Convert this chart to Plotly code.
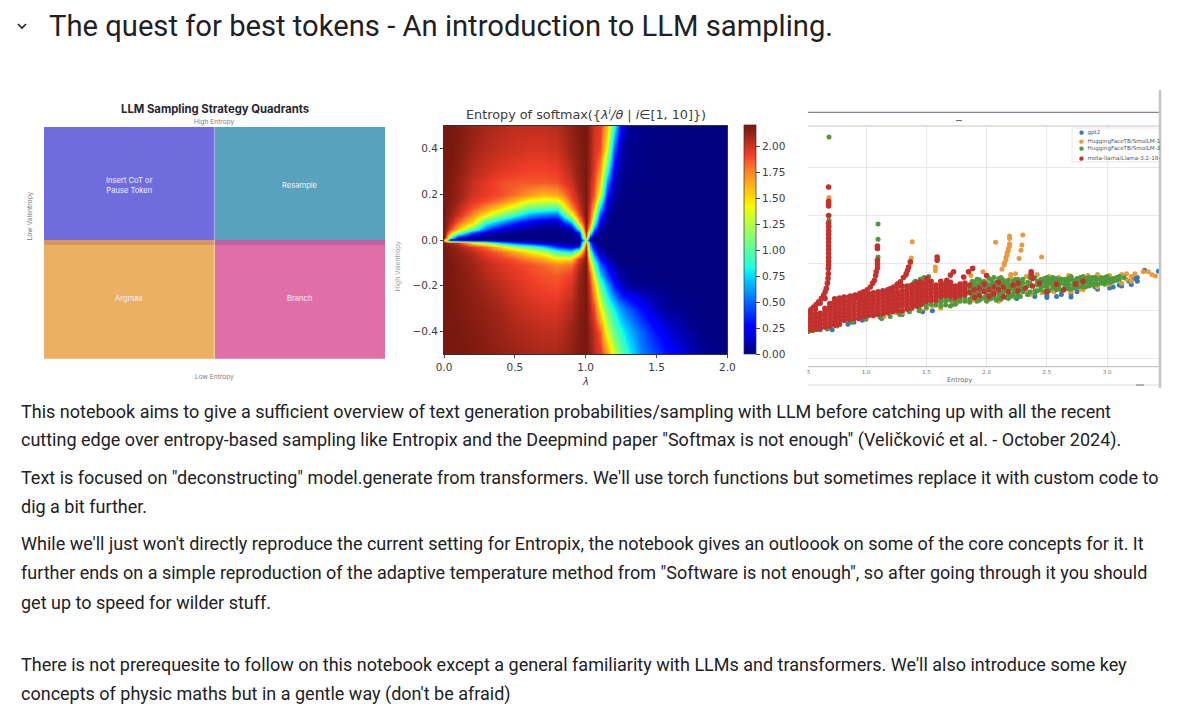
import plotly.graph_objects as go

W = 1200
H = 718

PAGE_TITLE = "The quest for best tokens - An introduction to LLM sampling."
BODY_LINES = [
	"This notebook aims to give a sufficient overview of text generation probabilities/sampling with LLM before catching up with all the recent",
	'cutting edge over entropy-based sampling like Entropix and the Deepmind paper "Softmax is not enough" (Veličković et al. - October 2024).',
	'Text is focused on "deconstructing" model.generate from transformers. We\'ll use torch functions but sometimes replace it with custom code to',
	"dig a bit further.",
	"While we'll just won't directly reproduce the current setting for Entropix, the notebook gives an outloook on some of the core concepts for it. It",
	'further ends on a simple reproduction of the adaptive temperature method from "Software is not enough", so after going through it you should',
	"get up to speed for wilder stuff.",
	"There is not prerequesite to follow on this notebook except a general familiarity with LLMs and transformers. We'll also introduce some key",
	"concepts of physic maths but in a gentle way (don't be afraid)",
]
BODY_Y = [411.5, 440.5, 477.5, 506.5, 543.5, 572.5, 602.5, 664.5, 693.5]

# quadrants (column 0 = low entropy, column 1 = high entropy)
QUAD_X = [0, 1]
QUAD_LOWER = [0.49, 0.49]
QUAD_STRIP = [0.022, 0.022]
QUAD_UPPER = [0.488, 0.488]
QUAD_LOWER_COLORS = ["#ecb064", "#e06fa8"]
QUAD_STRIP_COLORS = ["#d9975c", "#c45f9f"]
QUAD_UPPER_COLORS = ["#6f6cdd", "#58a2bd"]

LAMBDAS = [0, .05, .1, .2, .3, .4, .5, .6, .7, .8, .9, .95, 1.0, 1.03, 1.06, 1.1, 1.15, 1.2, 1.25, 1.3, 1.4, 1.5, 1.6, 1.8, 2.0]
VALENTROPY = [.5, .4, .3, .25, .2, .17, .14, .11, .08, .05, .03, .01, 0, -.01, -.03, -.05, -.08, -.11, -.15, -.2, -.3, -.4, -.5]
ENTROPY_ROWS = [
	[2.2, 2.2, 2.18, 2.12, 2.08, 2.05, 2.03, 2.03, 2.03, 2.05, 2.12, 2.18, 2.2, 2.1, 2.0, 1.95, 1.6, .9, .25, .05, .02, .01, 0, 0, 0],
	[2.2, 2.2, 2.17, 2.1, 2.05, 2.02, 2.0, 1.98, 1.98, 2.0, 2.1, 2.16, 2.2, 2.1, 1.98, 1.9, 1.4, .5, .08, .02, .01, 0, 0, 0, 0],
	[2.2, 2.18, 2.15, 2.05, 2.0, 1.95, 1.92, 1.9, 1.9, 1.92, 2.05, 2.14, 2.2, 2.08, 1.95, 1.7, .9, .2, .05, .02, .01, 0, 0, 0, 0],
	[2.2, 2.17, 2.12, 2.02, 1.95, 1.88, 1.85, 1.85, 1.85, 1.87, 2.0, 2.12, 2.2, 2.05, 1.9, 1.55, .6, .1, .03, .01, 0, 0, 0, 0, 0],
	[2.2, 2.17, 2.12, 2.0, 1.93, 1.88, 1.8, 1.7, 1.6, 1.65, 1.92, 2.08, 2.2, 2.02, 1.85, 1.35, .35, .06, .02, 0, 0, 0, 0, 0, 0],
	[2.2, 2.15, 2.1, 1.95, 1.88, 1.78, 1.6, 1.4, 1.35, 1.35, 1.85, 2.05, 2.2, 2.0, 1.75, 1.05, .2, .04, .01, 0, 0, 0, 0, 0, 0],
	[2.2, 2.13, 2.05, 1.88, 1.72, 1.5, 1.3, 1.05, 1.0, .95, 1.7, 2.0, 2.2, 1.95, 1.6, .75, .12, .02, 0, 0, 0, 0, 0, 0, 0],
	[2.2, 2.1, 2.0, 1.75, 1.45, 1.15, .9, .65, .55, .5, 1.35, 1.9, 2.2, 1.9, 1.35, .45, .06, .01, 0, 0, 0, 0, 0, 0, 0],
	[2.2, 2.05, 1.85, 1.55, .95, .65, .4, .25, .15, .12, .7, 1.6, 2.2, 1.8, 1.05, .22, .03, 0, 0, 0, 0, 0, 0, 0, 0],
	[2.2, 1.9, 1.6, 1.1, .5, .2, .1, .05, .02, .02, .1, .95, 2.15, 1.45, .6, .08, .01, 0, 0, 0, 0, 0, 0, 0, 0],
	[2.2, 1.6, 1.1, .45, .12, .04, .02, .01, .01, .01, .02, .3, 2.05, 1.0, .25, .03, 0, 0, 0, 0, 0, 0, 0, 0, 0],
	[2.2, .9, .25, .03, .01, 0, 0, 0, 0, 0, .01, .03, 1.8, .25, .03, 0, 0, 0, 0, 0, 0, 0, 0, 0, 0],
	[1.5, .05, 0, 0, 0, 0, 0, 0, 0, 0, 0, 0, 1.0, 0, 0, 0, 0, 0, 0, 0, 0, 0, 0, 0, 0],
	[2.2, 2.1, 2.0, 1.5, 1.2, .7, .45, .3, .15, .05, .02, .05, 1.8, .5, .1, .02, 0, 0, 0, 0, 0, 0, 0, 0, 0],
	[2.2, 2.15, 2.1, 1.95, 1.8, 1.5, 1.2, 1.0, .75, .4, .2, .4, 2.05, .7, .2, .04, 0, 0, 0, 0, 0, 0, 0, 0, 0],
	[2.2, 2.17, 2.13, 2.05, 1.92, 1.8, 1.65, 1.45, 1.3, .95, .8, 1.3, 2.12, 1.0, .45, .12, .02, 0, 0, 0, 0, 0, 0, 0, 0],
	[2.2, 2.18, 2.15, 2.08, 2.0, 1.92, 1.85, 1.75, 1.65, 1.45, 1.5, 1.95, 2.18, 1.35, .8, .3, .1, .02, 0, 0, 0, 0, 0, 0, 0],
	[2.2, 2.19, 2.16, 2.1, 2.03, 1.97, 1.92, 1.88, 1.82, 1.75, 1.8, 2.05, 2.2, 1.6, 1.05, .5, .25, .08, .02, 0, 0, 0, 0, 0, 0],
	[2.2, 2.19, 2.17, 2.12, 2.05, 2.0, 1.95, 1.9, 1.87, 1.85, 1.92, 2.1, 2.2, 1.85, 1.35, .75, .4, .18, .06, .02, .01, 0, 0, 0, 0],
	[2.2, 2.19, 2.17, 2.13, 2.08, 2.03, 1.98, 1.93, 1.9, 1.88, 1.97, 2.12, 2.2, 1.95, 1.6, 1.05, .65, .35, .15, .06, .02, .01, 0, 0, 0],
	[2.2, 2.2, 2.18, 2.15, 2.12, 2.08, 2.03, 2.0, 1.97, 1.97, 2.05, 2.15, 2.2, 2.05, 1.9, 1.45, 1.05, .8, .6, .48, .28, .12, .03, 0, 0],
	[2.2, 2.2, 2.19, 2.17, 2.14, 2.1, 2.07, 2.05, 2.03, 2.03, 2.1, 2.17, 2.2, 2.1, 2.02, 1.85, 1.35, 1.05, .85, .7, .48, .3, .15, .01, 0],
	[2.2, 2.2, 2.2, 2.18, 2.16, 2.13, 2.1, 2.08, 2.07, 2.07, 2.13, 2.18, 2.2, 2.13, 2.05, 1.97, 1.7, 1.35, 1.05, .85, .55, .42, .27, .05, 0],
]
CBAR_TICKS = [0, .25, .5, .75, 1.0, 1.25, 1.5, 1.75, 2.0]
# jet, with the washed out reds of the screenshot
JET = [
	[0, "rgb(0,0,128)"], [.11, "rgb(0,0,255)"], [.125, "rgb(0,0,255)"], [.34, "rgb(0,219,255)"],
	[.35, "rgb(0,230,247)"], [.375, "rgb(26,255,226)"], [.64, "rgb(237,255,8)"], [.65, "rgb(247,245,0)"],
	[.66, "rgb(255,236,0)"], [.8, "rgb(250,130,40)"], [.87, "rgb(240,62,40)"], [.91, "rgb(205,50,32)"],
	[.95, "rgb(160,38,24)"], [1, "rgb(120,24,14)"],
]

# scatter, entropy with its valentropy readings at that entropy
RED_COLS = [
	(.54, [.6, .68, .76, .84, .92, .98]), (.58, [.62, .7, .78, .86, .94, 1.04]), (.62, [.64, .72, .8, .88, .95, 1.16]),
	(.66, [.66, .74, .82, .9, .98, 1.05, 1.26]), (.70, [.68, .76, .84, .92, 1.0, 1.08, 1.15]), (.74, [.7, .78, .86, .94, 1.02, 1.1, 1.18, 1.25]),
	(.78, [.72, .8, .88, .96, 1.04, 1.12, 1.2, 1.27]), (.82, [.8, .88, .96, 1.04, 1.12, 1.2, 1.29]), (.86, [.82, .9, .98, 1.06, 1.14, 1.22, 1.29]),
	(.90, [.84, .92, 1, 1.08, 1.16, 1.24, 1.3]), (.94, [.84, .92, 1, 1.08, 1.16, 1.24, 1.31]), (.98, [.88, .96, 1.04, 1.12, 1.2, 1.27, 1.34]),
	(1.02, [.9, .98, 1.06, 1.14, 1.22, 1.3, 1.36]), (1.06, [.9, .98, 1.06, 1.14, 1.22, 1.3, 1.38]), (1.10, [.92, 1.0, 1.08, 1.16, 1.24, 1.32, 1.4]),
	(1.14, [.94, 1.02, 1.1, 1.18, 1.26, 1.34, 1.42]), (1.18, [.96, 1.04, 1.12, 1.2, 1.28, 1.36, 1.44]), (1.22, [.98, 1.06, 1.14, 1.22, 1.3, 1.38, 1.46]),
	(1.26, [1.0, 1.08, 1.16, 1.24, 1.32, 1.4, 1.5]), (1.30, [1.0, 1.1, 1.18, 1.26, 1.34, 1.42, 1.52]), (1.34, [1.04, 1.12, 1.2, 1.28, 1.36, 1.44, 1.52]),
	(1.38, [1.06, 1.14, 1.22, 1.3, 1.38, 1.46, 1.54]), (1.42, [1.1, 1.18, 1.26, 1.34, 1.42, 1.5, 1.58]), (1.46, [1.14, 1.22, 1.3, 1.38, 1.46, 1.54, 1.6]),
	(1.50, [1.2, 1.28, 1.36, 1.44, 1.52, 1.6]), (1.54, [1.22, 1.3, 1.38, 1.46, 1.54, 1.62]), (1.58, [1.22, 1.3, 1.38, 1.46, 1.54]),
	(1.62, [1.3, 1.38, 1.46, 1.54, 1.62]), (1.66, [1.32, 1.4, 1.48, 1.56]), (1.70, [1.3, 1.38, 1.46, 1.54, 1.6]), (1.74, [1.28, 1.36, 1.44, 1.52]),
	(1.78, [1.32, 1.4, 1.48, 1.56]), (1.82, [1.34, 1.42, 1.5, 1.58]),
	(1.86, [1.38, 1.54]), (1.90, [1.28, 1.44]), (1.94, [1.32, 1.48]), (1.98, [1.4, 1.56]), (2.02, [1.3, 1.44]), (2.06, [1.36, 1.5]), (2.10, [1.44, 1.6]),
	(2.14, [1.3, 1.5]), (2.18, [1.4]), (2.22, [1.54]), (2.26, [1.42, 1.58]), (2.32, [1.48]), (2.38, [1.52, 1.68]), (2.44, [1.58]), (2.50, [1.4]),
	(2.58, [1.56]), (2.64, [1.44]), (2.74, [1.56]), (2.80, [1.62]),
	# the spikes
	(.525, [.98]), (.545, [1.03]), (.566, [1.08]), (.587, [1.13]), (.608, [1.19]), (.63, [1.26]), (.649, [1.33]), (.662, [1.4]), (.671, [1.47]), (.68, [1.58]), (.685, [1.68]), (.688, [1.78, 1.89]),
	(.69, [1.96, 2.04, 2.12, 2.2, 2.28, 2.36, 2.44, 2.52, 2.6, 2.68, 2.76, 2.84, 3.0, 3.2, 3.25, 3.3, 3.6]),
	(.815, [1.28]), (.87, [1.31]), (.91, [1.33]), (.95, [1.37]), (.98, [1.4]), (1.01, [1.44]), (1.036, [1.5]), (1.055, [1.58]), (1.07, [1.64]), (1.08, [1.74]), (1.085, [1.82]),
	(1.095, [1.9, 1.98, 2.06, 2.31, 2.36]),
	(1.16, [1.4]), (1.2, [1.46]), (1.23, [1.5]), (1.26, [1.56]), (1.285, [1.61]), (1.31, [1.7]), (1.334, [1.78]), (1.354, [1.92]), (1.367, [2.03]), (1.345, [1.85]),
	(1.45, [1.61]), (1.505, [1.68]), (1.59, [2.06, 2.13]), (1.67, [1.64]), (1.7, [1.75]), (1.726, [1.82]), (1.81, [1.71]), (1.85, [1.82]), (1.884, [1.89]),
	(2.37, [1.82, 1.76]), (2.0, [1.74]),
]
GREEN_COLS = [
	(.52, [.56]), (.56, [.58]), (.6, [.6]), (.68, [.62]), (.76, [.68]), (.88, [.76]), (1.0, [.82]), (1.12, [.86]), (1.2, [.88]), (1.28, [.92]), (1.36, [.98]),
	(1.44, [1.0, 1.06]), (1.5, [1.08, 1.14]), (1.54, [1.14]), (1.58, [1.12, 1.18]), (1.62, [1.1, 1.18, 1.24]), (1.66, [1.12, 1.2, 1.26]), (1.7, [1.1, 1.22]),
	(1.74, [1.14, 1.2]), (1.78, [1.2, 1.26]), (1.82, [1.2, 1.28]), (1.86, [1.18, 1.24, 1.46]), (1.9, [1.36, 1.52, 1.6]), (1.94, [1.22, 1.4, 1.56, 1.65]), (1.98, [1.28, 1.48, 1.62]),
	(2.02, [1.24, 1.52, 1.68]), (2.06, [1.3, 1.44, 1.58, 1.7]), (2.1, [1.28, 1.36, 1.52, 1.68]), (2.14, [1.4, 1.58, 1.64]), (2.18, [1.26, 1.34, 1.48, 1.56, 1.64]), (2.22, [1.36, 1.46, 1.62]),
	(2.26, [1.34, 1.5, 1.66]), (2.3, [1.4, 1.46, 1.58, 1.66]), (2.36, [1.4, 1.58, 1.7]), (2.4, [1.36, 1.42, 1.7]), (2.45, [1.44, 1.5, 1.66]), (2.5, [1.46, 1.54, 1.62, 1.7]),
	(2.55, [1.48, 1.56, 1.64, 1.7]), (2.6, [1.48, 1.54, 1.62]), (2.65, [1.5, 1.58, 1.66]), (2.7, [1.46, 1.7, 1.72]), (2.75, [1.48, 1.6, 1.68]), (2.8, [1.5, 1.56, 1.64, 1.72]),
	(2.85, [1.52, 1.58, 1.64, 1.7]), (2.9, [1.58, 1.64, 1.7]), (2.95, [1.58, 1.64, 1.7]), (3.0, [1.6, 1.66, 1.72]), (3.05, [1.62, 1.68]), (3.1, [1.66, 1.72]), (3.14, [1.7]),
	(1.40, [1.6]), (1.45, [1.66]), (1.48, [1.7]), (1.52, [1.72]), (1.33, [1.74]),
	(.693, [4.65, 2.9, 2.78]), (1.1, [2.82, 2.5, 2.13]),
	(1.88, [1.32, 1.44, 1.5, 1.62]), (1.92, [1.2, 1.36, 1.54, 1.66]), (1.96, [1.26, 1.44, 1.6]), (2.0, [1.2, 1.34, 1.5, 1.58]), (2.04, [1.26, 1.38, 1.56, 1.64]),
	(2.08, [1.22, 1.44, 1.6]), (2.12, [1.24, 1.4, 1.56, 1.7]), (2.16, [1.28, 1.44, 1.6]), (2.2, [1.3, 1.48, 1.54]), (2.24, [1.28, 1.4, 1.5, 1.66]), (2.28, [1.3, 1.46, 1.54, 1.62]),
	(2.34, [1.34, 1.52, 1.6]), (2.42, [1.42, 1.54, 1.62]), (2.48, [1.4, 1.52, 1.6, 1.68]), (2.52, [1.42, 1.58, 1.66]), (2.58, [1.44, 1.5, 1.62, 1.68]), (2.62, [1.42, 1.58, 1.66]),
	(2.68, [1.46, 1.54, 1.62, 1.68]), (2.72, [1.48, 1.56, 1.64]), (2.78, [1.52, 1.62, 1.7]), (2.82, [1.5, 1.6, 1.68]), (2.88, [1.54, 1.62, 1.7]), (2.92, [1.56, 1.66]),
	(2.98, [1.56, 1.64, 1.7]), (3.03, [1.6, 1.66]), (3.08, [1.64, 1.7]),
]
ORANGE_COLS = [
	(.6, [.66]), (.72, [1.14]), (.78, [1.18]), (1.15, [.88]), (1.25, [.96]), (1.45, [1.02]), (1.55, [1.1]), (1.72, [1.2]), (1.78, [1.24]), (1.92, [1.3]), (2.12, [1.34]),
	(2.2, [1.7, 1.76]), (2.33, [1.4, 1.72]), (2.42, [1.76]), (2.52, [1.5, 1.72]), (2.6, [1.7]), (2.68, [1.48, 1.74]), (2.78, [1.7, 1.46]), (2.84, [1.74]), (2.92, [1.76, 1.5]),
	(3.02, [1.74, 1.56]), (3.12, [1.58, 1.76]), (3.16, [1.66, 1.78]), (3.2, [1.62, 1.72]), (3.23, [1.78]), (3.3, [1.82]), (3.34, [1.82]), (3.37, [1.76]), (3.4, [1.73]),
	(.693, [3.38, 2.66]), (1.384, [2.45]), (1.376, [2.11]), (1.37, [2.0]), (1.575, [1.92, 1.84]),
	(2.19, [2.57, 2.52, 2.41, 2.36]), (2.18, [2.31, 2.26]), (2.17, [2.17, 2.22]), (2.16, [2.12, 2.06]), (2.146, [1.96, 2.0]), (2.127, [1.87]),
	(2.075, [2.44]), (2.3, [2.59]), (2.293, [2.38]), (2.285, [2.27]), (2.27, [2.1]), (2.456, [2.13]), (1.87, [1.74]), (1.97, [1.82]), (2.24, [1.78]),
	(1.3, [.96]), (1.5, [1.05]), (1.62, [1.06]), (1.75, [1.16]), (1.88, [1.22]), (2.0, [1.28]), (2.1, [1.2]), (2.36, [1.34, 1.74]), (2.46, [1.38]), (2.56, [1.4]), (2.7, [1.4]), (2.8, [1.44]),
]
BLUE_COLS = [
	(.62, [.6]), (.72, [.6]), (.85, [.72]), (.9, [.76]), (.97, [.8]), (1.13, [.84]), (1.3, [.92]), (1.47, [.98]), (1.55, [1.0]), (1.72, [1.14]), (2.1, [1.22]),
	(2.25, [1.26]), (2.4, [1.3]), (2.5, [1.28, 1.32]), (2.58, [1.3]), (2.7, [1.36, 1.29]), (2.75, [1.4]), (2.9, [1.5]), (3.05, [1.5]), (3.1, [1.54]), (3.18, [1.62]), (3.2, [1.55]),
	(3.31, [1.85]), (3.425, [1.83]), (1.41, [1.62]), (1.5, [1.66]), (2.62, [1.34]), (2.92, [1.45]), (3.02, [1.48]), (3.12, [1.52]), (3.25, [1.62, 1.7]), (3.22, [1.68]),
]

SERIES_NAMES = ["gpt2", "HuggingFaceTB/SmolLM-1", "HuggingFaceTB/SmolLM-3", "meta-llama/Llama-3.2-18-"]
SERIES_COLORS = ["#3a78b0", "#ea9a3c", "#4f9a3a", "#c3312e"]
SERIES_COLS = [BLUE_COLS, ORANGE_COLS, GREEN_COLS, RED_COLS]
SCATTER_TICKS = [1.0, 1.5, 2.0, 2.5, 3.0]
SCATTER_TICK_TEXT = ["1.0", "1.5", "2.0", "2.5", "3.0"]
SCATTER_GRID_Y = [0, 1, 2, 3, 4]


def fx(px):
	return px / W

def fy(py):
	return 1 - py / H

def note(text, x, y, size, color, family="Roboto", xanchor="center", **kw):
	return dict(text=text, x=fx(x), y=fy(y), xref="paper", yref="paper", showarrow=False,
		font=dict(family=family, size=size, color=color), xanchor=xanchor, yanchor="middle",
		align="center" if xanchor == "center" else "left", **kw)

def hline(y, x0, x1, color, width=1):
	return dict(type="line", xref="paper", yref="paper", x0=fx(x0), x1=fx(x1), y0=fy(y), y1=fy(y),
		line=dict(color=color, width=width))

def flatten(cols):
	xs = []
	ys = []
	for x, vals in cols:
		for v in vals:
			xs.append(x)
			ys.append(v)
	return xs, ys


traces = []

# left panel, stacked bars
for vals, colors in [(QUAD_LOWER, QUAD_LOWER_COLORS), (QUAD_STRIP, QUAD_STRIP_COLORS), (QUAD_UPPER, QUAD_UPPER_COLORS)]:
	traces.append(go.Bar(x=QUAD_X, y=vals, width=1, xaxis="x", yaxis="y", showlegend=False,
		marker=dict(color=colors, line=dict(width=0))))

# middle panel
traces.append(go.Heatmap(x=LAMBDAS, y=VALENTROPY[::-1], z=ENTROPY_ROWS[::-1], zmin=0, zmax=2.2,
	zsmooth="best", colorscale=JET, xaxis="x2", yaxis="y2", hoverinfo="skip",
	colorbar=dict(x=fx(744.3), xanchor="left", xpad=0, y=fy(354.3), yanchor="bottom", ypad=0,
		len=228.6 / H, lenmode="fraction", thickness=11.7, thicknessmode="pixels",
		outlinewidth=0.7, outlinecolor="#333", tickvals=CBAR_TICKS, tickformat=".2f",
		ticks="outside", ticklen=4, tickcolor="#444",
		tickfont=dict(family="DejaVu Sans", size=10.5, color="#3c3c3c"))))

# right panel
for name, color, cols in zip(SERIES_NAMES, SERIES_COLORS, SERIES_COLS):
	xs, ys = flatten(cols)
	size = 5.6 if cols is RED_COLS else 5
	traces.append(go.Scatter(x=xs, y=ys, mode="markers", name=name, xaxis="x3", yaxis="y3", showlegend=False,
		cliponaxis=True, marker=dict(color=color, size=size, line=dict(width=0))))

fig = go.Figure(data=traces)

annotations = [
	note(PAGE_TITLE, 47, 26, 29.2, "#202124", xanchor="left"),
	note("<b>LLM Sampling Strategy Quadrants</b>", 214.5, 109, 11.3, "#27272f", family="Inter"),
	note("High Entropy", 214.5, 122, 6.6, "#7d7d86", family="Inter"),
	note("Low Entropy", 214.5, 377, 6.6, "#7d7d86", family="Inter"),
	note("Low Valentropy", 29.5, 216, 6.7, "#7d7d86", family="Inter", textangle=-90),
	note("High Valentropy", 397.5, 266, 6.7, "#9a9aa2", family="Inter", textangle=-90),
	note("Entropy of softmax({<i>λ<sup>i</sup>/θ</i> | <i>i</i>∈[1, 10]})", 585.5, 114, 12.8, "#3c3c3c", family="DejaVu Sans"),
	note("<i>λ</i>", 585.5, 381, 10, "#3c3c3c", family="DejaVu Sans"),
	note("Entropy", 959, 380, 6.5, "#666666", family="DejaVu Sans"),
	note("5", 809, 372, 5.5, "#777777", family="DejaVu Sans"),
]
for label, x, y in [("Insert CoT or<br>Pause Token", 0, 0.748), ("Resample", 1, 0.748), ("Argmax", 0, 0.258), ("Branch", 1, 0.258)]:
	annotations.append(dict(text=label, x=x, y=y, xref="x", yref="y", showarrow=False,
		font=dict(family="Inter", size=7.6, color="#f4f2fa")))
for text, y in zip(BODY_LINES, BODY_Y):
	annotations.append(note(text, 18.5, y, 18, "#202124", xanchor="left"))
for name, color, y in zip(SERIES_NAMES, SERIES_COLORS, [133, 141, 149, 158]):
	annotations.append(note('<span style="color:%s">●</span>  %s' % (color, name), 1077, y, 5.6, "#555555",
		family="DejaVu Sans", xanchor="left"))

shapes = [
	# chevron next to the title
	dict(type="path", xref="paper", yref="paper", line=dict(color="#202124", width=1.6),
		path="M %f,%f L %f,%f L %f,%f" % (fx(18), fy(24), fx(22), fy(28), fx(26), fy(24))),
	dict(type="line", xref="paper", yref="paper", x0=fx(214.3), x1=fx(214.3), y0=fy(127), y1=fy(358.7),
		line=dict(color="rgba(255,255,255,0.6)", width=0.8)),
	hline(112.3, 808, 1160, "#8d7f97", 1.2),
	hline(126, 808, 1160, "#c6c6cb", 1.2),
	hline(366.7, 808, 1160, "#b9b9be", 1),
	hline(385, 808, 1160, "#d8d8e4", 1),
	hline(120.6, 956, 962, "#666666", 1),
	hline(385, 1136, 1144, "#777777", 1),
	dict(type="rect", xref="paper", yref="paper", x0=fx(1072), x1=fx(1160), y0=fy(128), y1=fy(162),
		line=dict(color="#dedede", width=0.7), fillcolor="rgba(255,255,255,0.85)"),
	dict(type="line", xref="paper", yref="paper", x0=fx(1160), x1=fx(1160), y0=fy(90), y1=fy(388),
		line=dict(color="#c4c4c4", width=2.5)),
]

fig.update_layout(
	width=W, height=H, margin=dict(l=0, r=0, t=0, b=0, autoexpand=False), autosize=False,
	paper_bgcolor="white", plot_bgcolor="white", barmode="stack", bargap=0,
	annotations=annotations, shapes=shapes, showlegend=False,
	xaxis=dict(domain=[fx(44), fx(385)], range=[-0.5, 1.5], visible=False),
	yaxis=dict(domain=[fy(358.7), fy(127)], range=[0, 1], visible=False),
	xaxis2=dict(domain=[fx(444), fx(727.3)], range=[0, 2], anchor="y2", tickvals=[0, .5, 1, 1.5, 2],
		tickformat=".1f", ticks="outside", ticklen=3, tickcolor="#444", showgrid=False, zeroline=False,
		showline=True, mirror=True, linecolor="#333", linewidth=0.7,
		tickfont=dict(family="DejaVu Sans", size=10.5, color="#3c3c3c")),
	yaxis2=dict(domain=[fy(354.3), fy(125.7)], range=[-.5, .5], anchor="x2", tickvals=[-.4, -.2, 0, .2, .4],
		tickformat=".1f", ticks="outside", ticklen=3, tickcolor="#444", showgrid=False, zeroline=False,
		showline=True, mirror=True, linecolor="#333", linewidth=0.7,
		tickfont=dict(family="DejaVu Sans", size=10.5, color="#3c3c3c")),
	xaxis3=dict(domain=[fx(808), fx(1160)], range=[.519, 3.438], anchor="y3", tickvals=SCATTER_TICKS,
		ticktext=SCATTER_TICK_TEXT, ticklen=0, showgrid=True, gridcolor="#e8e8ea", gridwidth=0.7, zeroline=False,
		tickfont=dict(family="DejaVu Sans", size=5.5, color="#777777")),
	yaxis3=dict(domain=[fy(367), fy(126)], range=[-.18, 4.88], anchor="x3", tickvals=SCATTER_GRID_Y,
		showticklabels=False, ticklen=0, showgrid=True, gridcolor="#e8e8ea", gridwidth=0.7, zeroline=False),
)

fig.write_html("out.html", config=dict(displayModeBar=False),
	post_script="document.body.style.margin='0';document.body.style.overflow='hidden';")
